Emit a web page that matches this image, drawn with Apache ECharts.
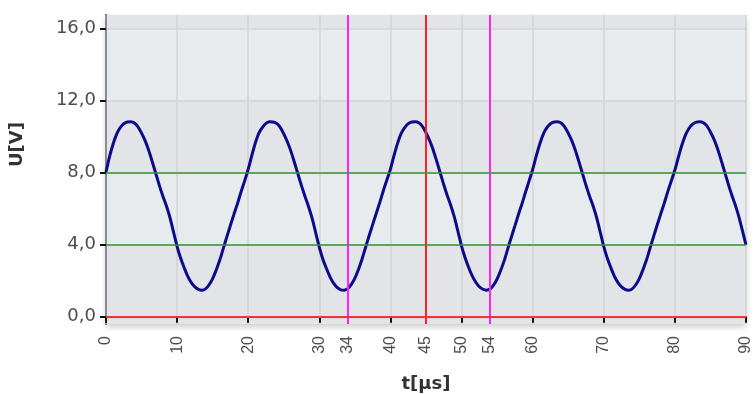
<!DOCTYPE html>
<html>
<head>
<meta charset="utf-8" />
<title>U(t)</title>
<style>
  html, body { margin: 0; padding: 0; background: #ffffff; }
  #chart { width: 754px; height: 394px; }
</style>
</head>
<body>
<div id="chart"></div>
<script src="https://cdn.jsdelivr.net/npm/echarts@6/dist/echarts.min.js"></script>
<script>
// time axis 0..90 µs, one sample every 0.5 µs
var timeUs = [];
for (var i = 0; i <= 180; i++) timeUs.push(i / 2);

// voltage [V], one row per 20 µs period
var voltage = [
  8.04, 8.9, 9.6, 10.15, 10.5, 10.72, 10.82, 10.83, 10.76, 10.55, 10.2, 9.78, 9.25, 8.62, 7.96, 7.3, 6.7, 6.15, 5.5, 4.7,
  3.9, 3.25, 2.72, 2.25, 1.9, 1.66, 1.52, 1.48, 1.55, 1.78, 2.12, 2.6, 3.15, 3.8, 4.45, 5.08, 5.7, 6.3, 6.95, 7.55,
  8.2, 8.95, 9.65, 10.2, 10.52, 10.74, 10.83, 10.82, 10.74, 10.52, 10.16, 9.72, 9.2, 8.57, 7.92, 7.27, 6.67, 6.1, 5.45, 4.65,
  3.86, 3.2, 2.68, 2.22, 1.87, 1.63, 1.5, 1.48, 1.56, 1.8, 2.15, 2.63, 3.2, 3.85, 4.5, 5.12, 5.74, 6.35, 7.0, 7.6,
  8.2, 8.95, 9.63, 10.17, 10.5, 10.73, 10.82, 10.83, 10.77, 10.57, 10.22, 9.8, 9.28, 8.65, 8.0, 7.33, 6.72, 6.17, 5.52, 4.73,
  3.93, 3.28, 2.74, 2.27, 1.92, 1.67, 1.53, 1.48, 1.54, 1.76, 2.1, 2.57, 3.12, 3.77, 4.42, 5.05, 5.68, 6.28, 6.93, 7.55,
  8.18, 8.92, 9.6, 10.15, 10.5, 10.72, 10.82, 10.83, 10.76, 10.55, 10.2, 9.78, 9.25, 8.62, 7.96, 7.3, 6.7, 6.15, 5.5, 4.7,
  3.9, 3.25, 2.72, 2.25, 1.9, 1.66, 1.52, 1.48, 1.55, 1.78, 2.12, 2.6, 3.15, 3.8, 4.45, 5.08, 5.7, 6.3, 6.95, 7.55,
  8.15, 8.88, 9.55, 10.1, 10.47, 10.7, 10.81, 10.83, 10.78, 10.6, 10.26, 9.85, 9.33, 8.7, 8.05, 7.38, 6.76, 6.2, 5.55, 4.78,
  4.0
];

var xTicks = [0, 10, 20, 30, 34, 40, 45, 50, 54, 60, 70, 80, 90];
var yTicks = [0, 4, 8, 12, 16];

// cursors (vertical) and levels (horizontal)
var cursorTimes = [34, 45, 54];
var levelValues = [8, 4, 0];
// lighter background bands [from, to]
var lightBands = [[4, 8], [12, 16]];

var _font = 'Liberation Sans, Arial, sans-serif';
var _wide = 'DejaVu Sans, sans-serif';
var cursorColors = ['#ff22ff', '#ff2020', '#ff22ff'];
var levelColors = ['#2e9a2e', '#2e9a2e', '#ff3030'];

var chart = echarts.init(document.getElementById('chart'));

var pts = [];
for (var k = 0; k < timeUs.length; k++) pts.push([timeUs[k], voltage[k]]);

var markData = [];
for (var c = 0; c < cursorTimes.length; c++) {
  markData.push({ xAxis: cursorTimes[c], lineStyle: { color: cursorColors[c], width: 2, type: 'solid' } });
}
for (var l = 0; l < levelValues.length; l++) {
  markData.push({ yAxis: levelValues[l], lineStyle: { color: levelColors[l], width: l == 2 ? 2 : 1.5, type: 'solid' } });
}
var bandData = [];
for (var b = 0; b < lightBands.length; b++) {
  bandData.push([{ yAxis: lightBands[b][0] }, { yAxis: lightBands[b][1] }]);
}

var gridLine = { show: true, lineStyle: { color: '#d2d3d5', width: 1.5 } };

var option = {
  animation: false,
  grid: {
    left: 106, right: 8, top: 15, bottom: 70,
    outerBoundsMode: 'none',
    show: true,
    backgroundColor: '#e3e4e7',
    borderWidth: 0,
    shadowColor: 'rgba(0,0,0,0.2)',
    shadowBlur: 6,
    shadowOffsetY: 3
  },
  xAxis: [{
    type: 'value',
    min: 0, max: 90,
    z: 2,
    name: 't[µs]',
    nameLocation: 'middle',
    nameGap: 51,
    nameTextStyle: { fontFamily: _wide, fontSize: 18, fontWeight: 'bold', color: '#333' },
    axisLine: { lineStyle: { color: '#111', width: 2 } },
    axisTick: { show: true, length: 6, lineStyle: { color: '#111', width: 2 }, customValues: xTicks },
    axisLabel: {
      customValues: xTicks,
      rotate: 90,
      margin: 12,
      fontFamily: _font, fontSize: 16, color: '#4d4d4d'
    },
    splitLine: gridLine
  }, {
    type: 'value',
    position: 'top',
    min: 0, max: 90,
    z: 2,
    axisLine: { show: true, lineStyle: { color: '#d8d9db', width: 3 } },
    axisTick: { show: false },
    axisLabel: { show: false },
    splitLine: { show: false }
  }],
  yAxis: [{
    type: 'value',
    min: -0.4, max: 16.76,
    z: 2,
    name: 'U[V]',
    nameLocation: 'middle',
    nameGap: 80,
    nameTextStyle: { fontFamily: _wide, fontSize: 18, fontWeight: 'bold', color: '#333', padding: [0, 0, 0, 50] },
    axisLine: { show: true, lineStyle: { color: '#111', width: 2 } },
    axisTick: { show: true, length: 6, lineStyle: { color: '#111', width: 2 }, customValues: yTicks },
    axisLabel: {
      customValues: yTicks,
      margin: 10,
      fontFamily: _wide, fontSize: 18, color: '#4d4d4d',
      formatter: function (v) { return v.toFixed(1).replace('.', ','); }
    },
    splitLine: gridLine
  }, {
    type: 'value',
    position: 'right',
    min: -0.4, max: 16.76,
    z: 2,
    axisLine: { show: true, lineStyle: { color: '#8c8c8c', width: 2 } },
    axisTick: { show: false },
    axisLabel: { show: false },
    splitLine: { show: false }
  }],
  series: [{
    // lighter background bands, under the grid lines
    type: 'line',
    data: [],
    z: 1,
    silent: true,
    markArea: {
      silent: true,
      itemStyle: { color: '#e8ebee' },
      data: bandData
    }
  }, {
    // cursors and level lines, over the grid lines
    type: 'line',
    data: [],
    z: 3,
    silent: true,
    markLine: {
      silent: true,
      symbol: 'none',
      label: { show: false },
      data: markData
    }
  }, {
    name: 'U',
    type: 'line',
    data: pts,
    z: 4,
    smooth: 0.3,
    showSymbol: false,
    lineStyle: { color: '#0c0c8a', width: 3 }
  }]
};
chart.setOption(option);
</script>
</body>
</html>
